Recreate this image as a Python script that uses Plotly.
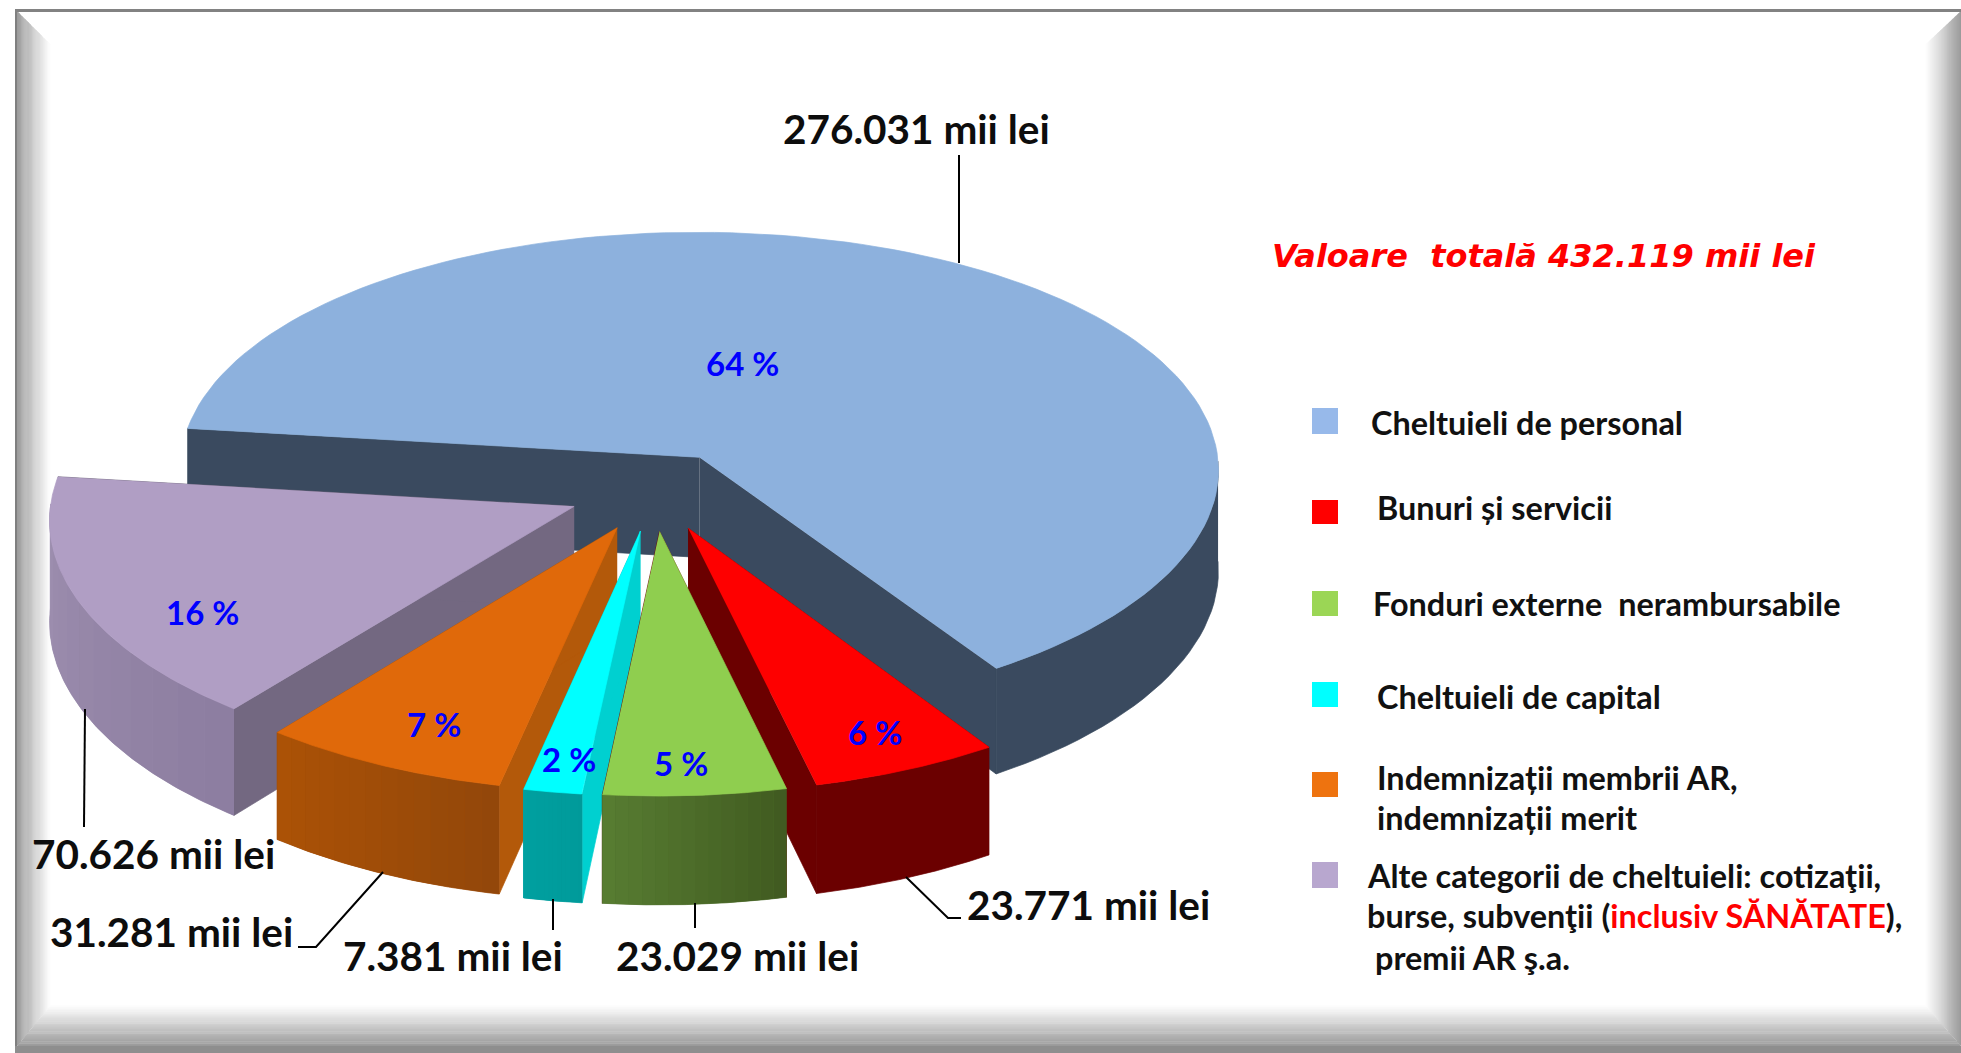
import numpy as np
import plotly.graph_objects as go

W, H = 1961, 1053
# ---- data ----
categories = ["Cheltuieli de personal", "Bunuri și servicii", "Fonduri externe nerambursabile",
              "Cheltuieli de capital", "Indemnizații membrii AR, indemnizații merit", "Alte categorii de cheltuieli"]
values = [276031, 23771, 23029, 7381, 31281, 70626]
top_colors = ["#8db1dd", "#fe0000", "#8fce4f", "#00ffff", "#e0690a", "#b09ec4"]
wall_colors = ["#3a4a5f", "#6b0000", "#6b0000", "#00d0d0", "#b3590a", "#736881"]
rim_left = ["#3a4a5f", "#6b0000", "#587d32", "#00a0a0", "#ac5206", "#a192b2"]
rim_right = ["#3a4a5f", "#6b0000", "#405a20", "#009a9a", "#92470a", "#8c7da0"]
label_xy = [(781, 128), (965, 904), (614, 955), (341, 955), (48, 931), (30, 853)]
pct_xy = [(742, 363), (875, 732), (681, 763), (569, 759), (434, 724), (202, 612)]
legend_rows = [
    ("#97b9ea", 408, 434, [(1369, 422, "Cheltuieli de personal")]),
    ("#ff0000", 500, 524, [(1375, 507, "Bunuri și servicii")]),
    ("#9bd655", 591, 616, [(1371, 603, "Fonduri externe  nerambursabile")]),
    ("#00ffff", 682, 707, [(1375, 696, "Cheltuieli de capital")]),
    ("#ee730f", 772, 797, [(1375, 777, "Indemnizații membrii AR,"), (1375, 817, "indemnizații merit")]),
    ("#b8a7cf", 862, 888, [(1365, 875, "Alte categorii de cheltuieli: cotizaţii,"),
                           (1365, 915, "burse, subvenţii (<span style='color:#ff0000'>inclusiv SĂNĂTATE</span>),"),
                           (1373, 957, "premii AR ş.a.")]),
]
leaders = [[(959, 155), (959, 263)],
           [(906, 877), (948, 918), (961, 918)],
           [(695, 903), (695, 928)],
           [(553, 899), (553, 930)],
           [(383, 872), (316, 947), (298, 947)],
           [(85, 709), (84, 827)]]

# ---- projection of the tilted, exploded pie ----
CX, CY, RX, KY, PX, PY, DEPTH, EXPLODE, START = 654, 491, 522, 243, 0.05, 0.062, 101, 0.165, 277.0
total = sum(values)


def project(gx, gy, down=0.0):
    sx = 1 / (1 - PX * gy)
    sy = 1 / (1 - PY * gy)
    return CX + RX * gx * sx, CY + KY * gy * sy + down * sy


def wedge(a0, a1, n=120):
    th = np.radians(np.linspace(a0, a1, n))
    return np.sin(th), -np.cos(th)


fig = go.Figure()


def poly(xs, ys, color, width=0.7):
    fig.add_trace(go.Scatter(x=list(xs), y=list(ys), mode="lines", fill="toself", fillcolor=color,
                             line=dict(color=color, width=width), hoverinfo="skip", showlegend=False))


def mix(c1, c2, t):
    a = [int(c1[i:i + 2], 16) for i in (1, 3, 5)]
    b = [int(c2[i:i + 2], 16) for i in (1, 3, 5)]
    return "#%02x%02x%02x" % tuple(int(round(u + (v - u) * t)) for u, v in zip(a, b))


angles = np.cumsum([START] + [v / total * 360 for v in values])
order = [0, 5, 4, 3, 1, 2]
for i in order:
    a0, a1 = angles[i], angles[i + 1]
    mid = np.radians((a0 + a1) / 2)
    ox, oy = EXPLODE * np.sin(mid), -EXPLODE * np.cos(mid)
    gx, gy = wedge(a0, a1)
    gx, gy = gx + ox, gy + oy
    # radial walls
    for k in (0, -1):
        pts = [project(ox, oy), project(gx[k], gy[k]), project(gx[k], gy[k], DEPTH), project(ox, oy, DEPTH)]
        poly([p[0] for p in pts], [p[1] for p in pts], wall_colors[i])
    # outer wall (front-facing part only): base shape, then shaded strips running left to right
    front = (gy - oy) >= -0.01
    bx0, by0 = project(gx[front], gy[front])
    bx1, by1 = project(gx[front], gy[front], DEPTH)
    poly(np.r_[bx0, bx1[::-1]], np.r_[by0, by1[::-1]], mix(rim_left[i], rim_right[i], 0.5))
    if rim_left[i] != rim_right[i]:
        nstr = 14
        gsx, gsy = wedge(a0, a1, nstr * 6 + 1)
        gsx, gsy = gsx + ox, gsy + oy
        left_is_end = project(gsx[0], gsy[0])[0] > project(gsx[-1], gsy[-1])[0]
        for j in range(nstr):
            t = (j + .5) / nstr
            if left_is_end:
                t = 1 - t
            ix = np.arange(j * 6, (j + 1) * 6 + 1)
            ix = ix[(gsy[ix] - oy) >= -0.01]
            if len(ix) < 2:
                continue
            tx0, ty0 = project(gsx[ix], gsy[ix])
            tx1, ty1 = project(gsx[ix], gsy[ix], DEPTH)
            poly(np.r_[tx0, tx1[::-1]], np.r_[ty0, ty1[::-1]], mix(rim_left[i], rim_right[i], t), width=0)
    # top
    tx, ty = project(np.r_[ox, gx], np.r_[oy, gy])
    poly(tx, ty, top_colors[i])

# ---- leaders ----
for seg in leaders:
    fig.add_trace(go.Scatter(x=[p[0] for p in seg], y=[p[1] for p in seg], mode="lines",
                             line=dict(color="#000000", width=2), hoverinfo="skip", showlegend=False))

FONT = "Lato, Carlito, Calibri, sans-serif"
ann = []


def text(x, y, s, size, color="#000000", weight=700, anchor="left", family=FONT, style="normal"):
    ann.append(dict(x=x, y=y, xref="x", yref="y", text=s, showarrow=False, xanchor=anchor, yanchor="middle",
                    font=dict(family=family, size=size, color=color, weight=weight, style=style)))


for v, (x, y) in zip(values, label_xy):
    text(x, y, f"{v:,}".replace(",", ".") + " mii lei", 40.5, "#0d0d0d")
for v, (x, y) in zip(values, pct_xy):
    text(x, y, f"{round(v / total * 100)} %", 33, "#0000ff", anchor="center")
text(1270, 256, "Valoare  totală 432.119 mii lei", 32, "#ff0000", family="DejaVu Sans", style="italic")
shapes = []
for col, y0, y1, rows in legend_rows:
    shapes.append(dict(type="rect", xref="x", yref="y", x0=1312, x1=1338, y0=y0, y1=y1,
                       fillcolor=col, line=dict(width=0)))
    for x, y, s in rows:
        text(x, y, s, 32.4, "#111111")


# ---- bevelled frame ----
def band(pts, color):
    path = "M " + " L ".join(f"{x},{y}" for x, y in pts) + " Z"
    shapes.append(dict(type="path", path=path, xref="x", yref="y", fillcolor=color, line=dict(width=0), layer="below"))


L0, L1, T0, R0, R1, B0, B1 = 17, 50, 11, 1961, 1926, 1046, 1006
N = 36
for j in range(N):
    t0, t1 = j / N, (j + 1) / N + 0.01
    c = mix("#9c9c9c", "#ffffff", t0)
    c2 = mix("#9a9a9a", "#ffffff", t0)
    lx0, lx1 = L0 + (L1 - L0) * t0, L0 + (L1 - L0) * t1
    ty0, ty1 = T0 + (L1 - L0) * t0, T0 + (L1 - L0) * t1
    by0, by1 = B0 + (B1 - B0) * t0, B0 + (B1 - B0) * t1
    band([(lx0, ty0), (lx1, ty1), (lx1, by1), (lx0, by0)], c)
    rx0, rx1 = R0 + (R1 - R0) * t0, R0 + (R1 - R0) * t1
    band([(rx0, ty0), (rx1, ty1), (rx1, by1), (rx0, by0)], c)
    band([(lx0, by0), (lx1, by1), (rx1, by1), (rx0, by0)], c2)
shapes.append(dict(type="rect", xref="x", yref="y", x0=L0 - 2, x1=L0, y0=T0, y1=H, fillcolor="#7f7f7f",
                   line=dict(width=0), layer="below"))
shapes.append(dict(type="rect", xref="x", yref="y", x0=L0 - 2, x1=W, y0=T0 - 2, y1=T0 + 1, fillcolor="#828282",
                   line=dict(width=0), layer="below"))
shapes.append(dict(type="rect", xref="x", yref="y", x0=L0 - 2, x1=W, y0=B0, y1=H, fillcolor="#8e8e8e",
                   line=dict(width=0), layer="below"))

fig.update_layout(width=W, height=H, margin=dict(l=0, r=0, t=0, b=0), paper_bgcolor="#ffffff", plot_bgcolor="rgba(0,0,0,0)",
                  showlegend=False, annotations=ann, shapes=shapes,
                  xaxis=dict(range=[0, W], visible=False, fixedrange=True),
                  yaxis=dict(range=[H, 0], visible=False, fixedrange=True))
fig.write_html("out.html", config=dict(displayModeBar=False),
               post_script="document.body.style.margin='0';document.body.style.overflow='hidden';")
